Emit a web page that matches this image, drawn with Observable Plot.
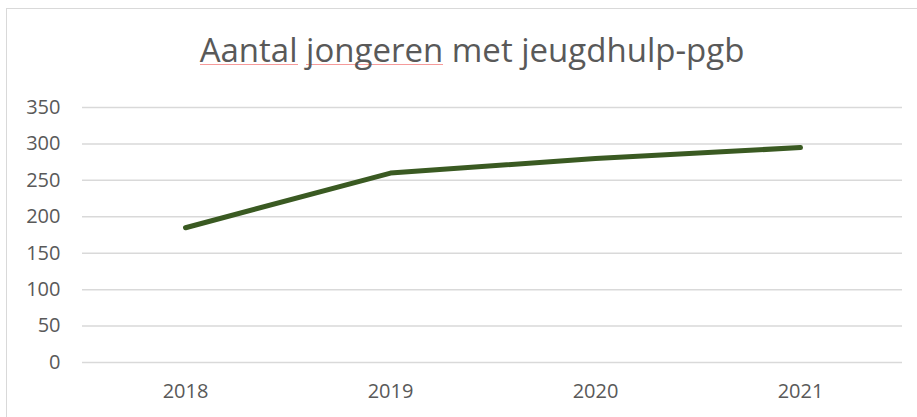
<!DOCTYPE html>
<html>
<head>
<meta charset="utf-8">
<script src="https://cdn.jsdelivr.net/npm/d3@7"></script>
<script src="https://cdn.jsdelivr.net/npm/@observablehq/plot@0.6"></script>
<style>
  html, body { margin: 0; padding: 0; background: #fff; }
  #wrap { position: relative; width: 917px; height: 417px; overflow: hidden; }
  #frame { position: absolute; left: 6px; top: 8px; width: 1000px; height: 1000px;
           border-left: 1.5px solid #d9d9d9; border-top: 1.5px solid #d9d9d9; }
  #title { position: absolute; left: 0; width: 944px; top: 30px; text-align: center;
           font-family: "Open Sans", sans-serif; font-size: 33px; color: #595959;
           line-height: 40px; white-space: nowrap; }
  #title .sp { background-image: linear-gradient(#f59a9a, #f59a9a);
               background-repeat: no-repeat; background-size: 100% 1px;
               background-position: 0 37px; }
  #chart { position: absolute; left: 0; top: 0; }
</style>
</head>
<body>
<div id="wrap">
  <div id="frame"></div>
  <div id="title"><span class="sp">Aantal</span> <span class="sp">jongeren</span> met jeugdhulp-pgb</div>
  <div id="chart"></div>
</div>
<script>
const years = ["2018", "2019", "2020", "2021"];
const counts = [185, 260, 280, 295];
const yTicks = [0, 50, 100, 150, 200, 250, 300, 350];

const data = years.map((y, i) => ({year: y, count: counts[i]}));

const plot = Plot.plot({
  width: 917,
  height: 417,
  marginLeft: 82,
  marginRight: 15,
  marginTop: 107,
  marginBottom: 55,
  style: {fontFamily: "Open Sans, sans-serif", fontSize: "20px", color: "#595959", background: "transparent"},
  x: {type: "point", domain: years, padding: 0.5, label: null},
  y: {domain: [0, 350], label: null},
  marks: [
    Plot.ruleY(yTicks, {stroke: "#d9d9d9", strokeWidth: 1.5}),
    Plot.axisY(yTicks, {tickSize: 0, tickPadding: 22, fill: "#595959", fontSize: 20, label: null}),
    Plot.axisX(years, {tickSize: 0, tickPadding: 21, fill: "#595959", fontSize: 20, label: null}),
    Plot.line(data, {x: "year", y: "count", stroke: "#3a5a22", strokeWidth: 5, strokeLinecap: "round", strokeLinejoin: "round"})
  ]
});
document.getElementById("chart").appendChild(plot);
</script>
</body>
</html>
